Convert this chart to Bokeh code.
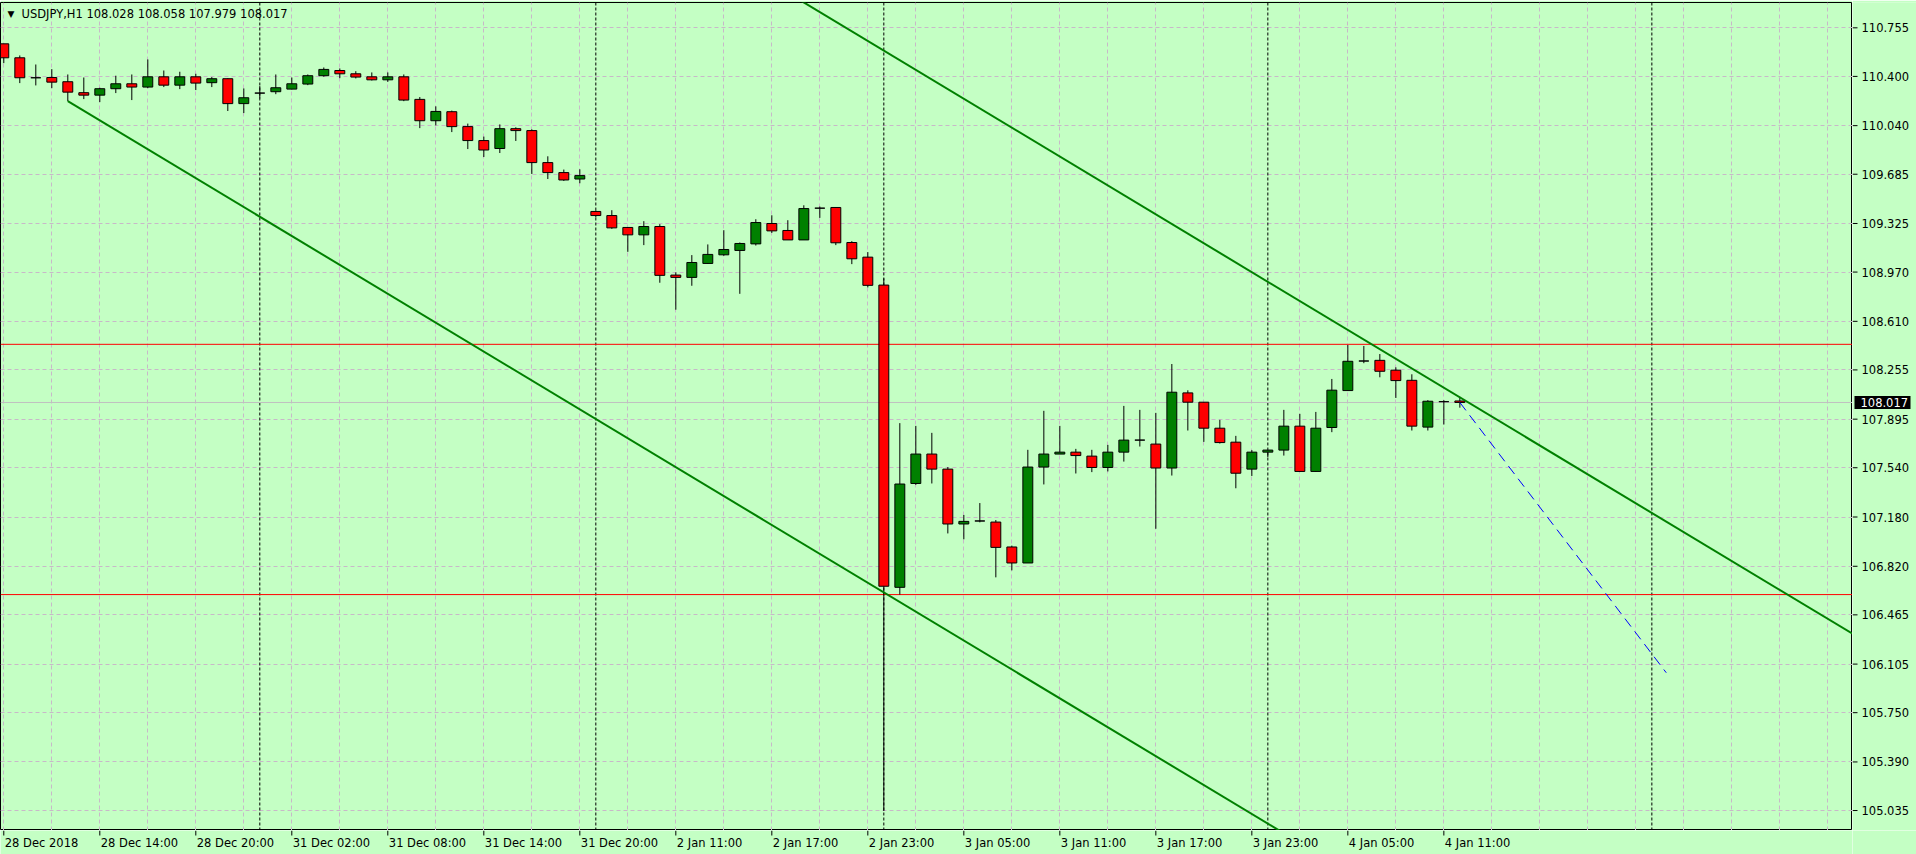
from bokeh.plotting import figure
from bokeh.layouts import gridplot
from bokeh.models import Range1d, FixedTicker, Span, ColumnDataSource
from bokeh.core.properties import value
from bokeh.embed import file_html
from bokeh.resources import INLINE

# ---------------- data ----------------
bars = list(range(92))
opens = [110.638, 110.536, 110.390, 110.392, 110.361, 110.281, 110.263, 110.310, 110.346, 110.322,
         110.397, 110.336, 110.397, 110.354, 110.383, 110.201, 110.278, 110.288, 110.307, 110.344,
         110.405, 110.443, 110.419, 110.397, 110.375, 110.397, 110.232, 110.076, 110.142, 110.033,
         109.931, 109.873, 110.018, 110.004, 109.770, 109.697, 109.650, 109.413, 109.383, 109.296,
         109.242, 109.303, 108.948, 108.931, 109.033, 109.096, 109.128, 109.176, 109.325, 109.274,
         109.205, 109.437, 109.442, 109.186, 109.079, 108.875, 106.666, 107.425, 107.640, 107.530,
         107.129, 107.151, 107.143, 106.961, 106.844, 107.545, 107.640, 107.654, 107.625, 107.542,
         107.654, 107.742, 107.713, 107.538, 108.087, 108.019, 107.829, 107.727, 107.530, 107.654,
         107.669, 107.844, 107.513, 107.834, 108.104, 108.320, 108.325, 108.253, 108.179, 107.837,
         108.023, 108.028]
highs = [110.638, 110.553, 110.487, 110.453, 110.414, 110.392, 110.317, 110.405, 110.414, 110.524,
         110.443, 110.434, 110.419, 110.395, 110.385, 110.312, 110.329, 110.414, 110.392, 110.414,
         110.465, 110.458, 110.438, 110.429, 110.429, 110.414, 110.249, 110.181, 110.150, 110.055,
         109.960, 110.049, 110.028, 110.013, 109.816, 109.719, 109.721, 109.420, 109.422, 109.296,
         109.342, 109.320, 108.968, 109.094, 109.172, 109.276, 109.186, 109.356, 109.385, 109.349,
         109.458, 109.449, 109.442, 109.196, 109.116, 108.924, 107.866, 107.846, 107.795, 107.545,
         107.195, 107.282, 107.158, 106.971, 107.671, 107.956, 107.846, 107.678, 107.671, 107.707,
         107.992, 107.963, 107.941, 108.298, 108.106, 108.019, 107.890, 107.773, 107.669, 107.669,
         107.963, 107.934, 107.948, 108.189, 108.437, 108.430, 108.371, 108.274, 108.223, 108.034,
         108.034, 108.058]
lows = [110.497, 110.351, 110.334, 110.314, 110.219, 110.234, 110.212, 110.278, 110.227, 110.314,
        110.322, 110.307, 110.300, 110.322, 110.147, 110.132, 110.239, 110.270, 110.305, 110.336,
        110.398, 110.387, 110.385, 110.370, 110.360, 110.219, 110.022, 110.042, 109.993, 109.869,
        109.811, 109.840, 109.928, 109.687, 109.650, 109.636, 109.619, 109.370, 109.286, 109.118,
        109.167, 108.892, 108.695, 108.870, 109.030, 109.089, 108.811, 109.164, 109.256, 109.205,
        109.205, 109.366, 109.167, 109.028, 108.858, 105.032, 106.613, 107.415, 107.425, 107.060,
        107.017, 107.141, 106.739, 106.790, 106.844, 107.418, 107.640, 107.498, 107.508, 107.513,
        107.585, 107.695, 107.094, 107.483, 107.812, 107.729, 107.717, 107.390, 107.480, 107.618,
        107.629, 107.510, 107.510, 107.800, 108.104, 108.304, 108.201, 108.050, 107.812, 107.812,
        107.856, 107.979]
closes = [110.536, 110.390, 110.390, 110.358, 110.285, 110.263, 110.310, 110.346, 110.322, 110.397,
          110.336, 110.397, 110.351, 110.383, 110.201, 110.244, 110.278, 110.317, 110.346, 110.405,
          110.451, 110.419, 110.395, 110.375, 110.397, 110.227, 110.076, 110.144, 110.033, 109.931,
          109.862, 110.018, 110.004, 109.770, 109.697, 109.643, 109.675, 109.383, 109.293, 109.242,
          109.303, 108.946, 108.931, 109.040, 109.099, 109.135, 109.179, 109.332, 109.271, 109.205,
          109.434, 109.437, 109.184, 109.067, 108.873, 106.674, 107.421, 107.640, 107.530, 107.129,
          107.148, 107.151, 106.958, 106.844, 107.545, 107.640, 107.654, 107.629, 107.542, 107.654,
          107.742, 107.742, 107.538, 108.092, 108.019, 107.829, 107.724, 107.500, 107.654, 107.669,
          107.844, 107.513, 107.829, 108.107, 108.318, 108.320, 108.245, 108.177, 107.844, 108.026,
          108.023, 108.017]

tick_bars = [0, 6, 12, 18, 24, 30, 36, 42, 48, 54, 60, 66, 72, 78, 84, 90]
tick_labels = ["28 Dec 2018", "28 Dec 14:00", "28 Dec 20:00", "31 Dec 02:00", "31 Dec 08:00",
               "31 Dec 14:00", "31 Dec 20:00", "2 Jan 11:00", "2 Jan 17:00", "2 Jan 23:00",
               "3 Jan 05:00", "3 Jan 11:00", "3 Jan 17:00", "3 Jan 23:00", "4 Jan 05:00",
               "4 Jan 11:00"]
price_ticks = [110.755, 110.400, 110.040, 109.685, 109.325, 108.970, 108.610, 108.255, 107.895,
               107.540, 107.180, 106.820, 106.465, 106.105, 105.750, 105.390, 105.035]
price_labels = ["110.755", "110.400", "110.040", "109.685", "109.325", "108.970", "108.610",
                "108.255", "107.895", "107.540", "107.180", "106.820", "106.465", "106.105",
                "105.750", "105.390", "105.035"]
separator_bars = [16, 37, 55, 79, 103]

# equidistant channel: two anchors of the lower line, one anchor of the upper line
chan_lower_bars = [4, 60]
chan_lower_prices = [110.219, 106.277]
chan_upper_bar = 84
chan_upper_price = 108.547

# dashed projection line
proj_bars = [91, 103.9]
proj_prices = [108.017, 106.042]

red_levels = [108.442, 106.613]
bid_price = 108.017
bid_label = "108.017"
title_text = "USDJPY,H1  108.028 108.058 107.979 108.017"

# ---------------- styling / layout ----------------
BG = "#c4ffc4"
GRID = "#c8b8c8"
UP = "#008000"
DOWN = "#ff0000"
FONT = "DejaVu Sans"
FS = "11.5px"

X0, X1 = -0.206, 115.54
Y0, Y1 = 104.889, 110.940
MAIN_W, MAIN_H, TOP_PAD = 1852, 830, 2
AX_W, AX_H = 64, 24
FRAME_H = MAIN_H - TOP_PAD
bar_per_px = (X1 - X0) / MAIN_W
price_per_px = (Y1 - Y0) / FRAME_H

xr = Range1d(X0, X1)
yr = Range1d(Y0, Y1)


def panel(w, h, x_range, y_range, top=0):
    f = figure(width=w, height=h, x_range=x_range, y_range=y_range,
               x_axis_location=None, y_axis_location=None, output_backend="svg",
               toolbar_location=None, min_border=0, min_border_top=top,
               background_fill_color=BG, border_fill_color=BG, outline_line_color=None)
    f.xgrid.visible = False
    f.ygrid.visible = False
    return f


# ---------------- main chart ----------------
p = figure(width=MAIN_W, height=MAIN_H, x_range=xr, y_range=yr,
           x_axis_location=None, y_axis_location=None, output_backend="svg",
           toolbar_location=None, min_border=0, min_border_top=TOP_PAD,
           background_fill_color=BG, border_fill_color=BG,
           outline_line_color="black", outline_line_width=1)

p.xgrid.ticker = FixedTicker(ticks=list(range(0, 116, 3)))
p.ygrid.ticker = FixedTicker(ticks=price_ticks)
for g in (p.xgrid[0], p.ygrid[0]):
    g.grid_line_color = GRID
    g.grid_line_dash = "4 3"
    g.grid_line_width = 1

for b in separator_bars:
    p.add_layout(Span(location=b, dimension="height", line_color="black",
                      line_dash="3 2", line_width=1, level="underlay"))

p.add_layout(Span(location=bid_price, dimension="width", line_color="#c0c0c0",
                  line_width=1, level="underlay"))
for lv in red_levels:
    p.add_layout(Span(location=lv, dimension="width", line_color="#ff0000",
                      line_width=1, level="underlay"))

src = ColumnDataSource(dict(
    x=bars, o=opens, h=highs, l=lows, c=closes,
    top=[max(a, b) for a, b in zip(opens, closes)],
    bottom=[min(a, b) for a, b in zip(opens, closes)],
    color=[UP if c > o else (DOWN if c < o else "black") for o, c in zip(opens, closes)],
))
p.segment(x0="x", y0="h", x1="x", y1="l", source=src, line_color="black", line_width=1)
p.vbar(x="x", width=0.62, top="top", bottom="bottom", source=src, fill_color="color",
       line_color="black", line_width=1)

slope = (chan_lower_prices[1] - chan_lower_prices[0]) / (chan_lower_bars[1] - chan_lower_bars[0])
end_bar = 140
start_bar = chan_lower_bars[0]
p.line([start_bar, end_bar],
       [chan_lower_prices[0], chan_lower_prices[0] + slope * (end_bar - start_bar)],
       line_color=UP, line_width=2)
p.line([start_bar, end_bar],
       [chan_upper_price + slope * (start_bar - chan_upper_bar),
        chan_upper_price + slope * (end_bar - chan_upper_bar)],
       line_color=UP, line_width=2)

p.line(proj_bars, proj_prices, line_color="#0000ff", line_width=1, line_dash="10 6")

head_y = Y1 - 11 * price_per_px
p.text(x=[X0 + 7 * bar_per_px], y=[head_y], text=["▼"], text_font=value(FONT),
       text_font_size="9px", text_color="black", text_baseline="middle", text_align="left")
p.text(x=[X0 + 21 * bar_per_px], y=[head_y], text=[title_text], text_font=value(FONT),
       text_font_size=FS, text_color="black", text_baseline="middle", text_align="left")

# ---------------- right price scale ----------------
r = panel(AX_W, MAIN_H, Range1d(0, AX_W), yr, top=TOP_PAD)
r.segment(x0=0, x1=5, y0=price_ticks, y1=price_ticks, line_color="black", line_width=1)
r.text(x=9, y=price_ticks, text=price_labels, text_font=value(FONT), text_font_size=FS,
       text_color="black", text_baseline="middle", text_align="left")
r.rect(x=[30], y=[bid_price], width=56, height=13, height_units="screen",
       fill_color="black", line_color=None)
r.text(x=[8], y=[bid_price], text=[bid_label], text_font=value(FONT), text_font_size=FS,
       text_color="white", text_baseline="middle", text_align="left")

# ---------------- bottom time scale ----------------
b_ax = panel(MAIN_W, AX_H, xr, Range1d(-AX_H, 0))
b_ax.segment(x0=tick_bars, x1=tick_bars, y0=0, y1=-5, line_color="black", line_width=1)
b_ax.text(x=tick_bars, y=-5, text=tick_labels, x_offset=1, text_font=value(FONT),
          text_font_size=FS, text_color="black", text_baseline="top", text_align="left")

corner = panel(AX_W, AX_H, Range1d(0, 1), Range1d(0, 1))
corner.scatter(x=[], y=[])

layout = gridplot([[p, r], [b_ax, corner]], toolbar_location=None)

open("out.html", "w").write(file_html(layout, INLINE))
